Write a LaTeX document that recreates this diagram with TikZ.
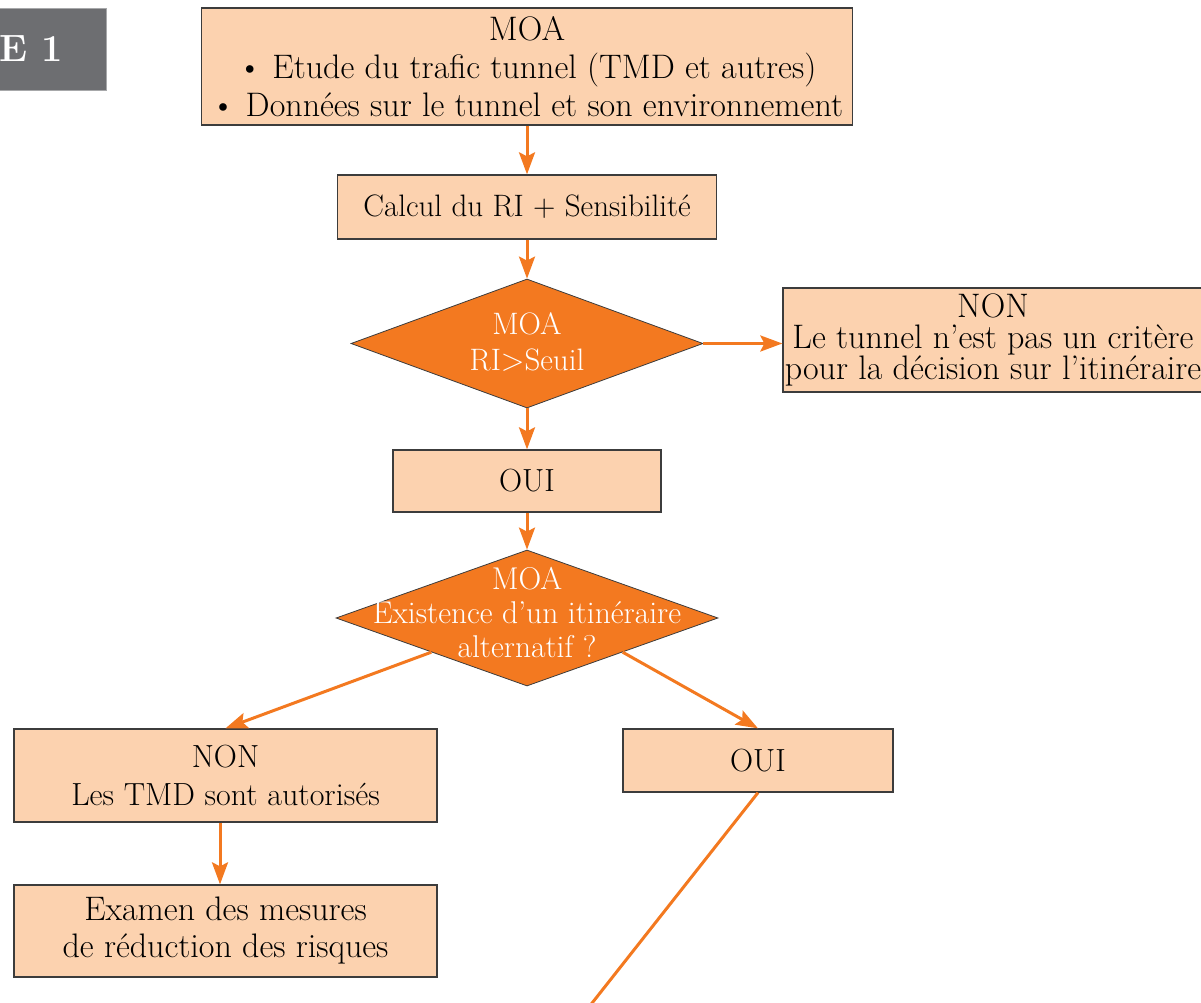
\documentclass[tikz,border=0pt]{standalone}
\usepackage{tikz}
\usetikzlibrary{shapes.geometric,arrows.meta}

\definecolor{peach}{RGB}{252,210,175}
\definecolor{flow}{RGB}{243,121,32}
\definecolor{boxline}{RGB}{60,60,60}
\definecolor{tabgrey}{RGB}{109,110,113}

\tikzset{
  boxnode/.style={draw=boxline, fill=peach, line width=1.3pt, align=center, inner sep=0pt,
    font=\fontsize{32}{38}\selectfont},
  decnode/.style={diamond, draw=boxline, fill=flow, line width=0.8pt, inner sep=0pt},
  dectext/.style={align=center, text=white, inner sep=0pt, font=\fontsize{31}{36}\selectfont},
  flowline/.style={draw=flow, line width=3pt, -{Stealth[length=22pt,width=16pt,inset=4pt]}},
  flowtail/.style={draw=flow, line width=3pt},
}

\begin{document}
\begin{tikzpicture}[x=1pt,y=1pt,yscale=-1,xscale=1]
%set diagram left start at 0, and has size of 1201 x 1003
\useasboundingbox (0,0) rectangle (1201,1003);

%Shape: Rectangle [grey tab]
\node[fill=tabgrey, draw=tabgrey!60, line width=0.8pt, anchor=north east, minimum width=125, minimum height=82] (tab) at (107,8) {};
% Text Node
\node[text=white, anchor=east, inner sep=0pt, font=\fontsize{38}{40}\selectfont\bfseries] (tabtext) at (63,49) {E 1};

%Shape: Rectangle [MOA donnees]
\node[boxnode, font=\fontsize{34}{38}\selectfont, minimum width=651, minimum height=117] (moa) at (527,66.5)
  {MOA\\ \textbullet\ Etude du trafic tunnel (TMD et autres)\\ \textbullet\ Données sur le tunnel et son environnement};
%Shape: Rectangle [calcul]
\node[boxnode, font=\fontsize{31}{38}\selectfont, minimum width=379, minimum height=64] (calcul) at (527,207) {Calcul du RI + Sensibilité};

%Shape: Diamond [seuil]
\node[decnode, minimum width=352, minimum height=129] (seuil) at (527,343.5) {};
% Text Node
\node[dectext] (seuiltext) at (527,342) {MOA\\RI>Seuil};

%Shape: Rectangle [non critere]
\node[boxnode, font=\fontsize{34}{31}\selectfont, minimum width=420, minimum height=104] (critere) at (993,340)
  {NON\\Le tunnel n’est pas un critère\\pour la décision sur l’itinéraire};

%Shape: Rectangle [oui seuil]
\node[boxnode, minimum width=268, minimum height=62] (ouiseuil) at (527,481) {OUI};

%Shape: Diamond [alternatif]
\node[decnode, minimum width=382, minimum height=136] (alter) at (527,618) {};
% Text Node
\node[dectext, font=\fontsize{31.5}{34}\selectfont] (altertext) at (527,612) {MOA\\Existence d’un itinéraire\\alternatif ?};

%Shape: Rectangle [non autorises]
\node[boxnode, minimum width=423, minimum height=93] (autorise) at (225.5,775.5) {NON\\Les TMD sont autorisés};
%Shape: Rectangle [examen]
\node[boxnode, font=\fontsize{34}{37}\selectfont, minimum width=423, minimum height=92] (examen) at (225.5,931)
  {Examen des mesures\\de réduction des risques};
%Shape: Rectangle [oui alternatif]
\node[boxnode, minimum width=270, minimum height=63] (ouialt) at (758,760.5) {OUI};

\coordinate (tail) at (585,1012);

%Straight Lines
\draw[flowline] (moa) -- (calcul);
\draw[flowline] (calcul) -- (seuil);
\draw[flowline] (seuil.east) -- (critere.west |- seuil.east);
\draw[flowline] (seuil) -- (ouiseuil);
\draw[flowline] (ouiseuil) -- (alter);
\draw[flowline] (alter.south west) -- (autorise.north);
\draw[flowline] (alter.south east) -- (ouialt.north);
\draw[flowline] (autorise.south -| 220,0) -- (examen.north -| 220,0);
\draw[flowtail] (ouialt.south) -- (tail);

\end{tikzpicture}
\end{document}
